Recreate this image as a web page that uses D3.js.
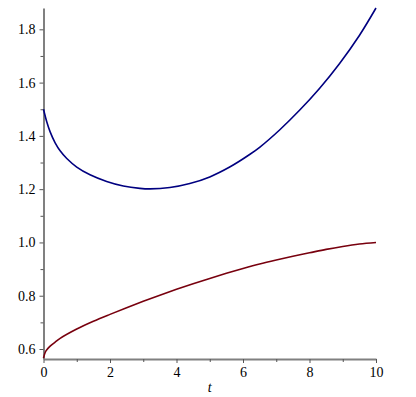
<!DOCTYPE html>
<html>
<head>
<meta charset="utf-8">
<script src="https://cdn.jsdelivr.net/npm/d3@7"></script>
<style>
  body { margin: 0; background: #fff; }
  svg text { font-family: "Liberation Serif", "Times New Roman", serif; }
</style>
</head>
<body>
<svg id="chart"></svg>
<script>
// values
var tBlue = [0, 0.1, 0.2, 0.35, 0.5, 0.7, 1, 1.4, 1.9, 2.4, 2.9, 3.2, 3.8, 4.4, 5, 5.6, 6.2, 6.5, 7.1, 7.7, 8.3, 8.9, 9.5, 10];
var blueValues = [1.5, 1.452, 1.415, 1.374, 1.344, 1.315, 1.283, 1.254, 1.229, 1.212, 1.203, 1.201, 1.206, 1.221, 1.246, 1.283, 1.330, 1.357, 1.422, 1.496, 1.578, 1.671, 1.777, 1.88];
var tRed = [0, 0.05, 0.1, 0.2, 0.35, 0.5, 1, 1.5, 2, 2.5, 3, 3.5, 4, 4.5, 5, 5.5, 6, 6.5, 7, 7.5, 8, 8.5, 9, 9.5, 10];
var redValues = [0.566, 0.587, 0.597, 0.611, 0.626, 0.640, 0.675, 0.704, 0.730, 0.755, 0.779, 0.802, 0.824, 0.845, 0.865, 0.884, 0.902, 0.919, 0.934, 0.948, 0.961, 0.974, 0.985, 0.994, 1.0];
var xTicks = [0, 2, 4, 6, 8, 10];
var xMinor = [1, 3, 5, 7, 9];
var yTicks = [0.6, 0.8, 1.0, 1.2, 1.4, 1.6, 1.8];
var yMinor = [0.7, 0.9, 1.1, 1.3, 1.5, 1.7];

var W = 416, H = 397;
var mLeft = 43.5, mRight = 376, mTop = 8, mBottom = 359;
var serif = "'Liberation Serif', 'Times New Roman', serif";

var svg = d3.select("#chart").attr("width", W).attr("height", H);

var x = d3.scaleLinear().domain([0, 10]).range([mLeft, mRight]);
var y = d3.scaleLinear().domain([0.5625, 1.88]).range([mBottom, mTop]);

// axes
svg.append("g")
  .attr("transform", "translate(0," + mBottom + ")")
  .call(d3.axisBottom(x).tickValues(xTicks).tickSize(4).tickSizeOuter(0).tickPadding(4)
    .tickFormat(d3.format("d")));
svg.append("g")
  .attr("transform", "translate(0," + mBottom + ")")
  .call(d3.axisBottom(x).tickValues(xMinor).tickSize(3).tickFormat(""))
  .select(".domain").remove();

svg.append("g")
  .attr("transform", "translate(" + mLeft + ",0)")
  .call(d3.axisLeft(y).tickValues(yTicks).tickSize(4).tickSizeOuter(0).tickPadding(4)
    .tickFormat(d3.format(".1f")));
svg.append("g")
  .attr("transform", "translate(" + mLeft + ",0)")
  .call(d3.axisLeft(y).tickValues(yMinor).tickSize(3).tickFormat(""))
  .select(".domain").remove();

svg.selectAll("g").attr("font-family", serif);
svg.selectAll(".domain").attr("stroke", "#808080").attr("stroke-width", 2);
svg.selectAll(".tick line").attr("stroke", "#555").attr("stroke-width", 1);
svg.selectAll(".tick text").attr("fill", "#000").style("font-size", "14px")
  .style("font-family", serif);

// axis label
svg.append("text")
  .attr("x", (mLeft + mRight) / 2)
  .attr("y", 392)
  .attr("text-anchor", "middle")
  .style("font-size", "14px")
  .style("font-style", "italic")
  .style("font-family", serif)
  .text("t");

// curves
var line = d3.line()
  .x(function(d) { return x(d[0]); })
  .y(function(d) { return y(d[1]); })
  .curve(d3.curveCatmullRom.alpha(0.5));

svg.append("path")
  .datum(d3.zip(tRed, redValues))
  .attr("d", line)
  .attr("fill", "none")
  .attr("stroke", "#78000E")
  .attr("stroke-width", 1.6);

svg.append("path")
  .datum(d3.zip(tBlue, blueValues))
  .attr("d", line)
  .attr("fill", "none")
  .attr("stroke", "#000080")
  .attr("stroke-width", 1.6);
</script>
</body>
</html>
